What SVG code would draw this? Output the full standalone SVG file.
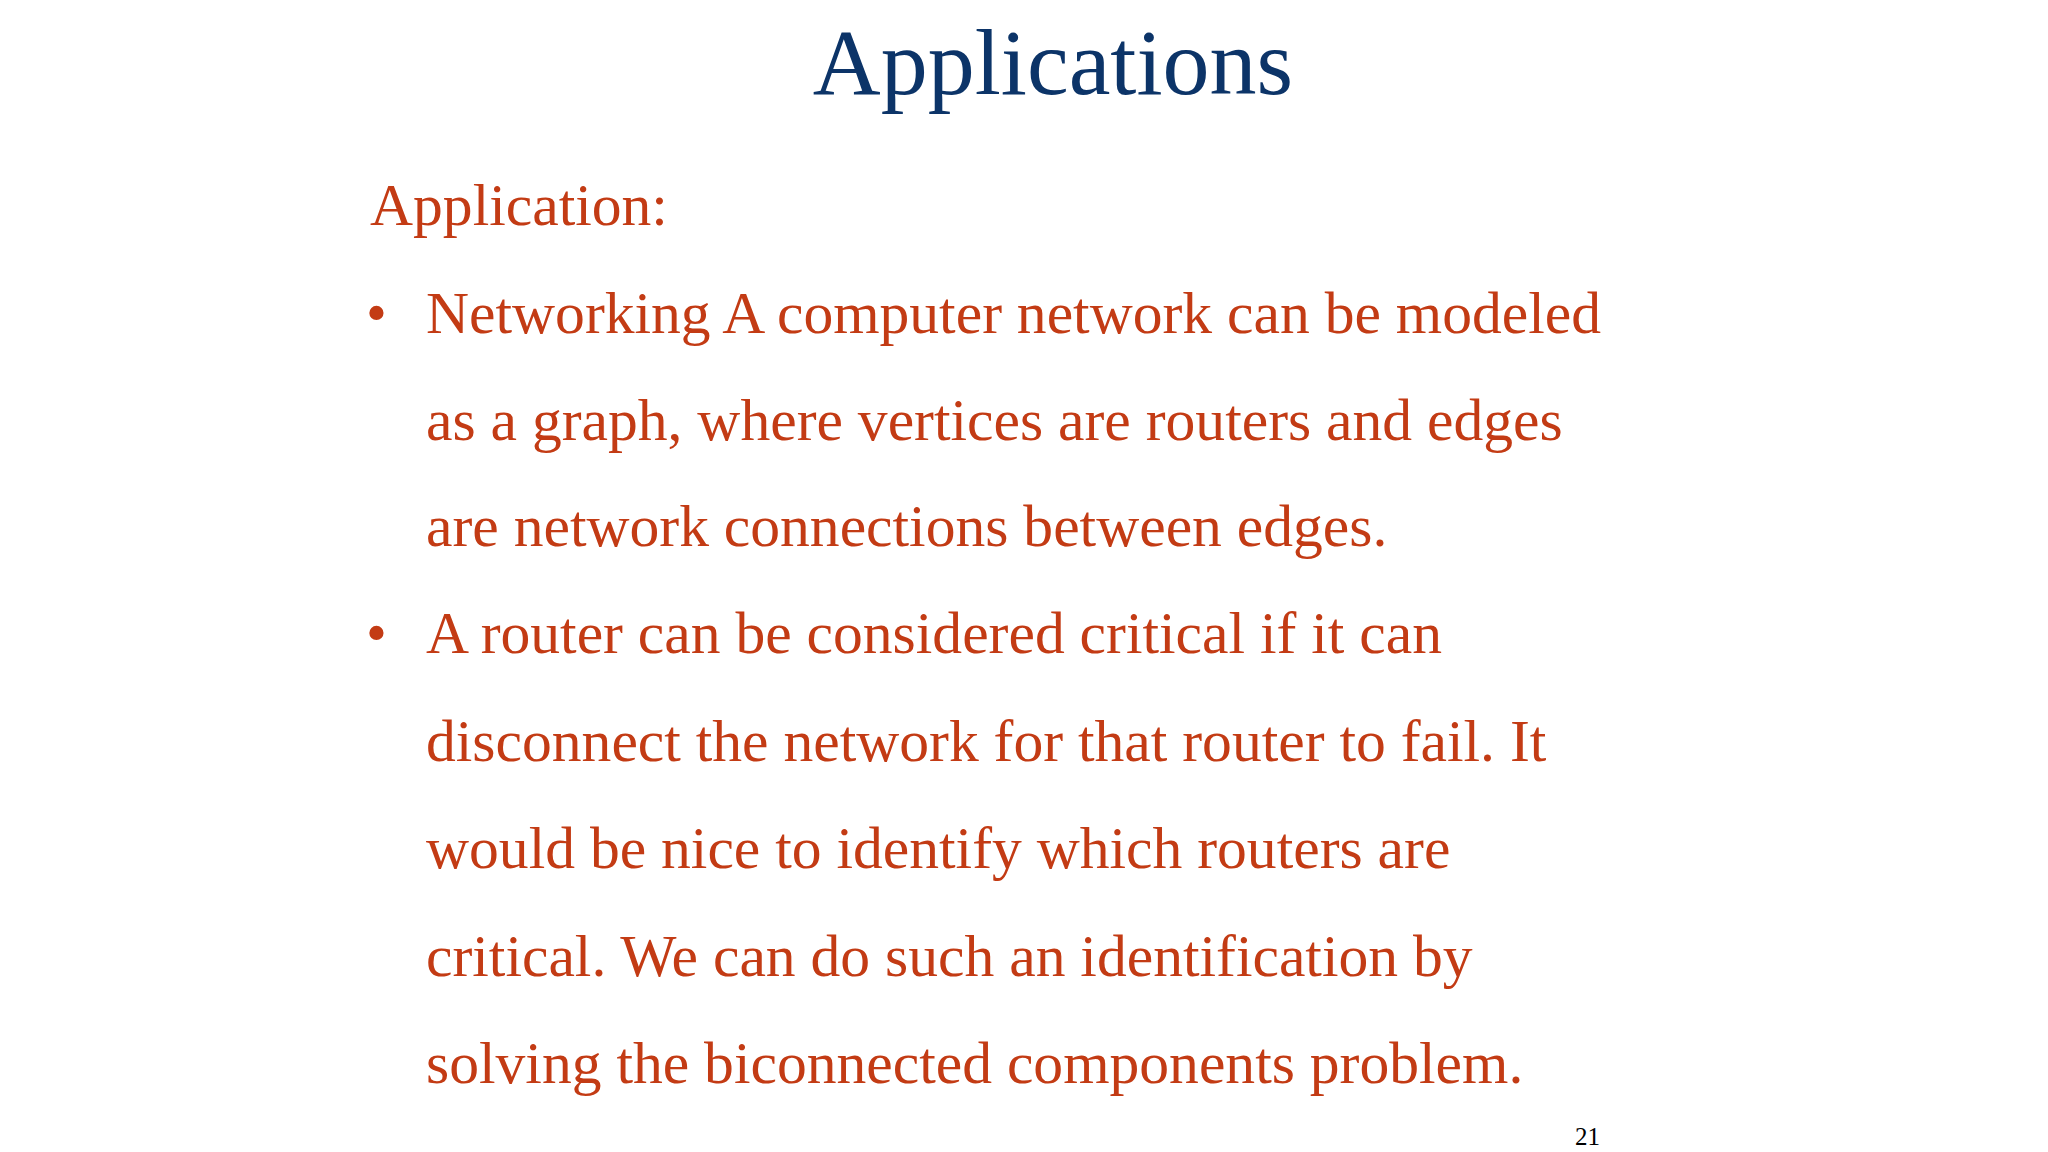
<svg xmlns="http://www.w3.org/2000/svg" width="2048" height="1152" viewBox="0 0 2048 1152">
<style>
.t{font-family:"Liberation Serif","Times New Roman",serif;}
.title{font-size:94px;fill:#0c3468;}
.b{font-size:59.6px;fill:#c33b14;}
</style>
<rect width="2048" height="1152" fill="#fff"/>
<g id="title"><text class="t title" x="1053" y="94" text-anchor="middle">Applications</text></g>
<g id="body" class="t b">
<text x="370" y="225">Application:</text>
<text x="366" y="333">•</text>
<text x="426" y="333">Networking A computer network can be modeled</text>
<text x="426" y="440">as a graph, where vertices are routers and edges</text>
<text x="426" y="546">are network connections between edges.</text>
<text x="366" y="653">•</text>
<text x="426" y="653">A router can be considered critical if it can</text>
<text x="426" y="761">disconnect the network for that router to fail. It</text>
<text x="426" y="868">would be nice to identify which routers are</text>
<text x="426" y="976">critical. We can do such an identification by</text>
<text x="426" y="1083">solving the biconnected components problem.</text>
</g>
<g id="page"><text class="t" x="1600" y="1145" text-anchor="end" font-size="25" fill="#000">21</text></g>
</svg>
